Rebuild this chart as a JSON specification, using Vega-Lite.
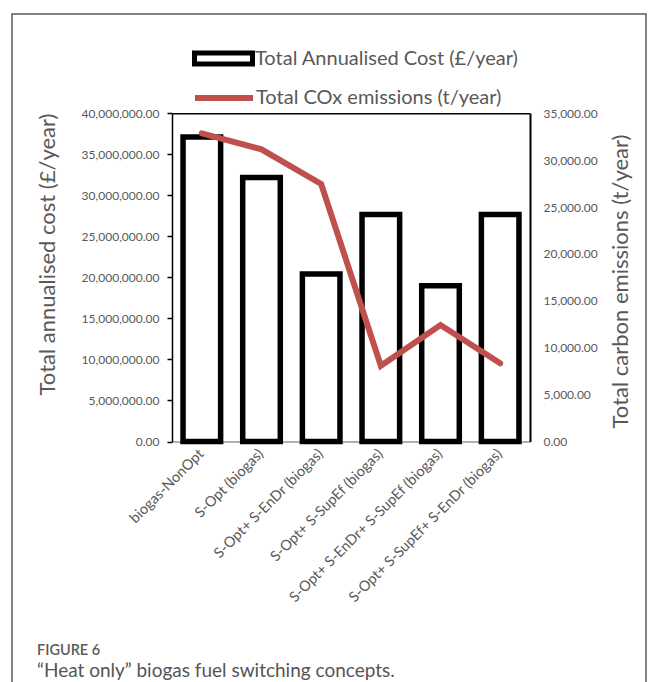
{
  "$schema": "https://vega.github.io/schema/vega-lite/v6.json",
  "autosize": "none",
  "padding": {"left": 12, "top": 14, "right": 10, "bottom": 0},
  "width": 634,
  "height": 672,
  "background": "white",
  "title": {
    "text": "FIGURE 6",
    "subtitle": "“Heat only” biogas fuel switching concepts.",
    "orient": "bottom",
    "anchor": "start",
    "frame": "group",
    "offset": -42,
    "dx": 25,
    "font": "Lato",
    "fontSize": 14.5,
    "fontWeight": 600,
    "color": "#5a5a5a",
    "subtitleFont": "Lato",
    "subtitleFontSize": 19,
    "subtitleColor": "#555555",
    "subtitlePadding": 3
  },
  "data": {
    "values": [
      {"scenario": "biogas-NonOpt", "cost": 37110000, "emissions": 32870},
      {"scenario": "S-Opt (biogas)", "cost": 32180000, "emissions": 31160},
      {"scenario": "S-Opt+ S-EnDr (biogas)", "cost": 20410000, "emissions": 27460},
      {"scenario": "S-Opt+ S-SupEf (biogas)", "cost": 27670000, "emissions": 8085},
      {"scenario": "S-Opt+ S-EnDr+ S-SupEf (biogas)", "cost": 18970000, "emissions": 12425},
      {"scenario": "S-Opt+ S-SupEf+ S-EnDr (biogas)", "cost": 27670000, "emissions": 8340}
    ]
  },
  "layer": [
    {
      "mark": {"type": "bar", "fill": "white", "strokeWidth": 5.5},
      "encoding": {
        "x": {
          "field": "scenario",
          "type": "nominal",
          "sort": null,
          "scale": {"range": [160, 518], "paddingInner": 0.37, "paddingOuter": 0.185},
          "axis": {
            "orient": "bottom",
            "offset": -244.5,
            "title": null,
            "labelAngle": -45,
            "labelAlign": "right",
            "labelBaseline": "middle",
            "labelPadding": 10,
            "labelLimit": 400,
            "ticks": false,
            "domainColor": "#b0b0b0",
            "domainWidth": 2,
            "labelFont": "Lato",
            "labelFontSize": 14.5,
            "labelColor": "#595959"
          }
        },
        "y": {
          "field": "cost",
          "type": "quantitative",
          "scale": {"domain": [0, 40000000], "range": [427.5, 99.3], "nice": false},
          "axis": {
            "orient": "left",
            "offset": -160,
            "values": [0, 5000000, 10000000, 15000000, 20000000, 25000000, 30000000, 35000000, 40000000],
            "format": ",.2f",
            "title": "Total annualised cost (£/year)",
            "titleFont": "Lato",
            "titleFontSize": 22,
            "titleFontWeight": "normal",
            "titleColor": "#595959",
            "titleX": -125,
            "titleY": 240,
            "titleAngle": -90,
            "titleBaseline": "middle",
            "titleAlign": "center",
            "labelFont": "Lato",
            "labelFontSize": 12,
            "labelColor": "#595959",
            "labelPadding": 8,
            "tickSize": 5,
            "tickWidth": 1.5,
            "tickColor": "black",
            "domainColor": "black",
            "domainWidth": 1.5
          }
        },
        "stroke": {
          "datum": "Total Annualised Cost (£/year)",
          "type": "nominal",
          "scale": {"domain": ["Total Annualised Cost (£/year)"], "range": ["black"]},
          "legend": {
            "orient": "none",
            "legendX": 180,
            "legendY": 13,
            "title": null,
            "symbolType": "M-1,-0.19H1V0.19H-1Z",
            "symbolSize": 3364,
            "symbolStrokeWidth": 5,
            "symbolFillColor": "white",
            "symbolStrokeColor": "black",
            "labelFont": "Lato",
            "labelFontSize": 20,
            "labelColor": "#595959",
            "labelOffset": 0,
            "labelLimit": 400
          }
        }
      }
    },
    {
      "mark": {"type": "line", "strokeWidth": 6, "strokeCap": "round", "strokeJoin": "miter"},
      "encoding": {
        "x": {
          "field": "scenario",
          "type": "nominal",
          "sort": null,
          "axis": {
            "orient": "top",
            "offset": -99.3,
            "title": null,
            "labels": false,
            "ticks": false,
            "domainColor": "black",
            "domainWidth": 1.5
          }
        },
        "y": {
          "field": "emissions",
          "type": "quantitative",
          "scale": {"domain": [0, 35000], "range": [427.5, 99.3], "nice": false},
          "axis": {
            "orient": "right",
            "offset": -116,
            "values": [0, 5000, 10000, 15000, 20000, 25000, 30000, 35000],
            "format": ",.2f",
            "title": "Total carbon emissions (t/year)",
            "titleFont": "Lato",
            "titleFontSize": 22,
            "titleFontWeight": "normal",
            "titleColor": "#595959",
            "titleX": 90,
            "titleY": 267,
            "titleAngle": -90,
            "titleBaseline": "middle",
            "titleAlign": "center",
            "labelFont": "Lato",
            "labelFontSize": 12,
            "labelColor": "#595959",
            "labelPadding": 13,
            "ticks": false,
            "domainColor": "black",
            "domainWidth": 2
          }
        },
        "stroke": {
          "datum": "Total COx emissions (t/year)",
          "type": "nominal",
          "scale": {"domain": ["Total COx emissions (t/year)"], "range": ["#c0504d"]},
          "legend": {
            "orient": "none",
            "legendX": 180,
            "legendY": 52,
            "title": null,
            "symbolType": "M-1,0H1",
            "symbolSize": 3364,
            "symbolStrokeWidth": 6,
            "symbolStrokeColor": "#c0504d",
            "labelFont": "Lato",
            "labelFontSize": 20,
            "labelColor": "#595959",
            "labelOffset": 0,
            "labelLimit": 400
          }
        }
      }
    }
  ],
  "resolve": {
    "scale": {"y": "independent", "stroke": "independent"},
    "axis": {"x": "independent", "y": "independent"}
  },
  "config": {
    "view": {"stroke": "#5a5a5a", "strokeWidth": 1.5},
    "axis": {"grid": false}
  }
}
